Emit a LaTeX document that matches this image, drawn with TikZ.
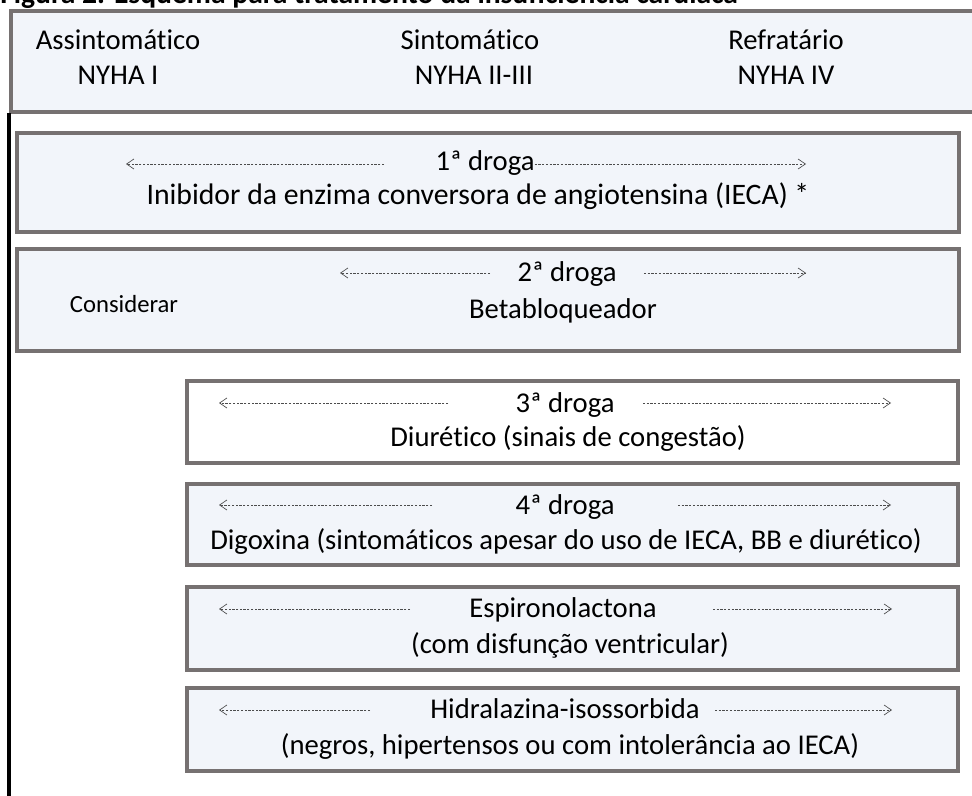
\documentclass[tikz,border=0pt]{standalone}
\usepackage{fontspec}
\setmainfont{Carlito}[Ligatures={NoCommon}]
\usetikzlibrary{arrows.meta}
\definecolor{framegray}{HTML}{767171}
\definecolor{panelfill}{HTML}{F2F5FA}

\begin{document}
\begin{tikzpicture}[x=0.75pt,y=-0.75pt,
  panel/.style={draw=framegray,line width=2.6pt,fill=panelfill},
  txt/.style={font=\fontsize{21.5}{25}\selectfont,inner sep=0pt,anchor=base},
  darr/.style={draw=black!70,line width=0.5pt,dash pattern=on 1.7pt off 1.1pt,
    -{Straight Barb[length=5.5pt,width=7.5pt,line width=0.5pt]}}]
\useasboundingbox (0,0) rectangle (972,796);
% title, cut by the page edge
\node[font=\fontsize{22.2}{26}\selectfont\bfseries,inner sep=0pt,anchor=base west] (title) at (0,3)
  {Figura 2. Esquema para tratamento da insuficiência cardíaca};
% header band
\draw[panel] (11,11) rectangle (990,112);
\draw[black,line width=3pt] (9,113) -- (9,800);
\node[txt] (asx) at (118,50) {Assintomático};
\node[txt] (asn) at (118,84) {NYHA I};
\node[txt] (snx) at (470,50) {Sintomático};
\node[txt] (snn) at (474,84) {NYHA II-III};
\node[txt] (rfx) at (786,50) {Refratário};
\node[txt] (rfn) at (786,84) {NYHA IV};
% 1st drug
\draw[panel] (17,133) rectangle (959,232);
\node[txt] (d1) at (485,170) {1ª droga};
\node[txt,font=\fontsize{22.3}{26}\selectfont] (d1b) at (478,204) {Inibidor da enzima conversora de angiotensina (IECA) *};
\coordinate (d1l) at (126,164);
\coordinate (d1r) at (806,164);
\draw[darr] (384,164) -- (d1l);
\draw[darr] (d1.east |- d1r) -- (d1r);
% 2nd drug
\draw[panel] (17,249) rectangle (959,351);
\node[txt] (d2) at (567,281) {2ª droga};
\node[txt] (d2b) at (563,318) {Betabloqueador};
\node[font=\fontsize{18.5}{22}\selectfont,inner sep=0pt,anchor=base] (cons) at (124,312) {Considerar};
\coordinate (d2l) at (340,273);
\coordinate (d2r) at (806,273);
\draw[darr] (490,273) -- (d2l);
\draw[darr] (644,273) -- (d2r);
% 3rd drug
\draw[panel,fill=white] (187,381) rectangle (958,463);
\node[txt] (d3) at (565,412) {3ª droga};
\node[txt] (d3b) at (568,446) {Diurético (sinais de congestão)};
\coordinate (d3l) at (219,403);
\coordinate (d3r) at (891,403);
\draw[darr] (448,403) -- (d3l);
\draw[darr] (643,403) -- (d3r);
% 4th drug
\draw[panel] (187,484) rectangle (958,565);
\node[txt] (d4) at (565,514) {4ª droga};
\node[txt] (d4b) at (566,549) {Digoxina (sintomáticos apesar do uso de IECA, BB e diurético)};
\coordinate (d4l) at (219,505);
\coordinate (d4r) at (891,505);
\draw[darr] (432,505) -- (d4l);
\draw[darr] (678,505) -- (d4r);
% spironolactone
\draw[panel] (187,587) rectangle (958,670);
\node[txt] (d5) at (563,617) {Espironolactona};
\node[txt] (d5b) at (570,653) {(com disfunção ventricular)};
\coordinate (d5l) at (219,609);
\coordinate (d5r) at (892,609);
\draw[darr] (410,609) -- (d5l);
\draw[darr] (713,609) -- (d5r);
% hydralazine
\draw[panel] (187,688) rectangle (958,771);
\node[txt] (d6) at (565,718) {Hidralazina-isossorbida};
\node[txt] (d6b) at (570,754) {(negros, hipertensos ou com intolerância ao IECA)};
\coordinate (d6l) at (219,710);
\coordinate (d6r) at (892,710);
\draw[darr] (370,710) -- (d6l);
\draw[darr] (715,710) -- (d6r);
\end{tikzpicture}
\end{document}
